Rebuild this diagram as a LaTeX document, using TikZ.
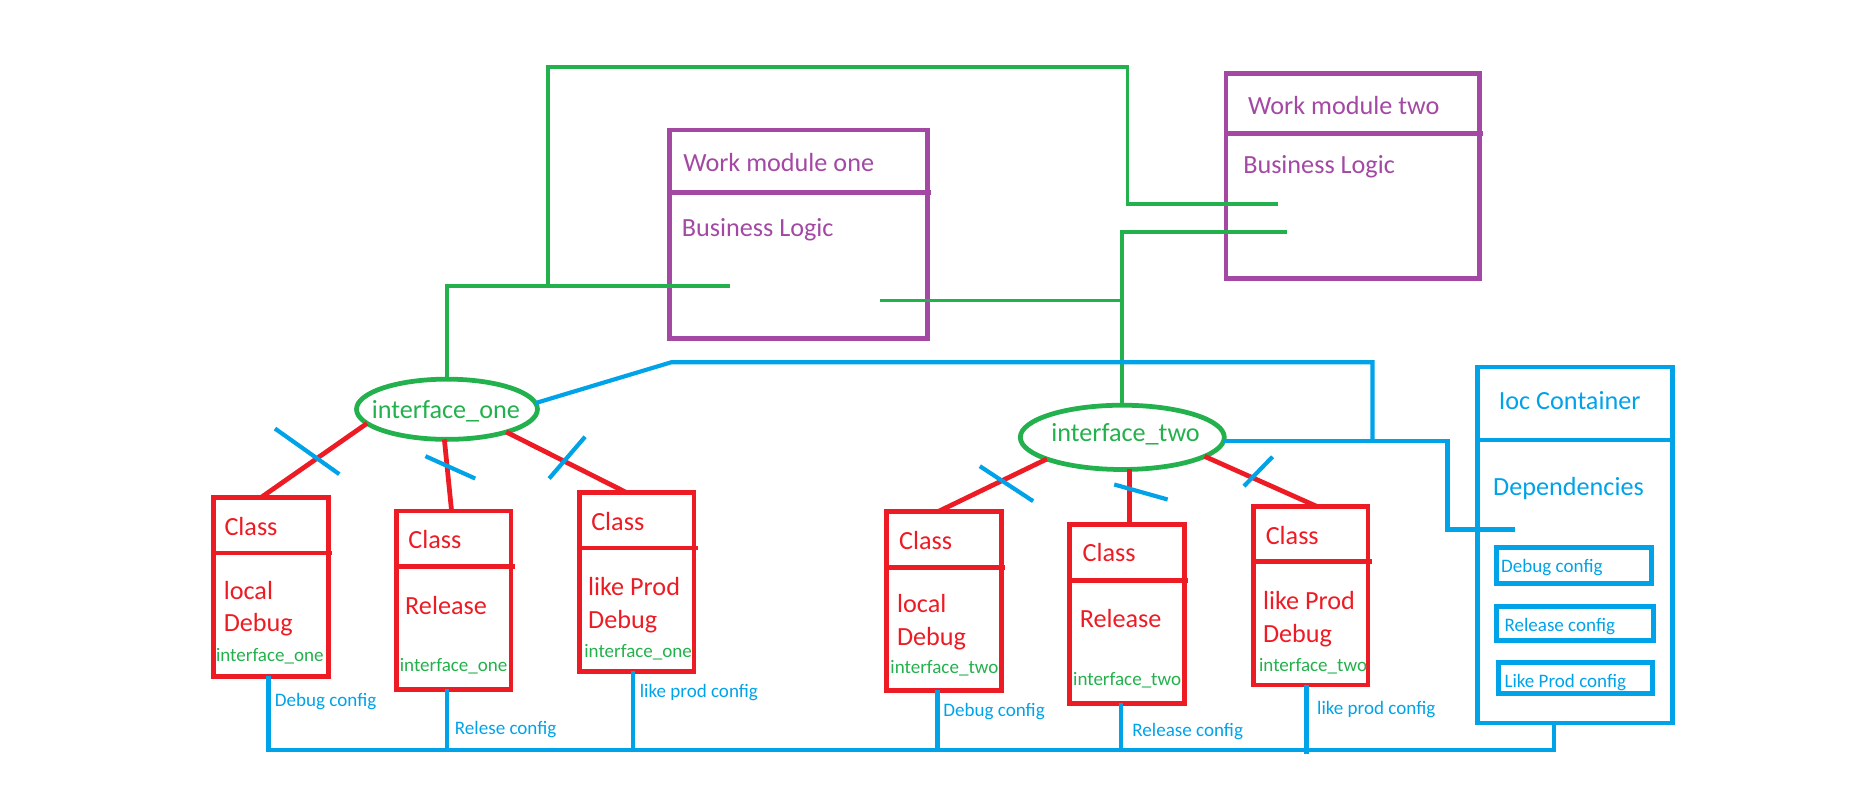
\documentclass[tikz,border=0pt]{standalone}
\usepackage{fontspec}
\setmainfont{Carlito}
\usetikzlibrary{shapes.geometric,calc}
\definecolor{pgreen}{RGB}{34,177,76}
\definecolor{ppurple}{RGB}{163,73,164}
\definecolor{pred}{RGB}{237,28,36}
\definecolor{pblue}{RGB}{0,162,232}
\begin{document}
\begin{tikzpicture}[x=1pt,y=-1pt,
  big/.style={font=\fontsize{22}{26}\selectfont, inner sep=0, outer sep=0, anchor=base west},
  small/.style={font=\fontsize{16}{19}\selectfont, inner sep=0, outer sep=0, anchor=base west},
  rbox/.style={draw=pred, line width=4pt, inner sep=0, outer sep=0, anchor=north west, minimum width=96.5pt, minimum height=150pt},
  pbox/.style={draw=ppurple, line width=4pt, inner sep=0, outer sep=0, anchor=north west},
  bbox/.style={draw=pblue, inner sep=0, outer sep=0, anchor=north west},
  ell/.style={ellipse, draw=pgreen, line width=4pt, inner sep=0, outer sep=0},
  gline/.style={draw=pgreen, line width=3.2pt},
  bline/.style={draw=pblue, line width=3.5pt},
  rline/.style={draw=pred, line width=4pt},
  rdiv/.style={draw=pred, line width=4pt},
  pdiv/.style={draw=ppurple, line width=4pt}
]
\useasboundingbox (0,0) rectangle (1560,662);

% ---------- purple work modules ----------
\node[pbox, minimum width=217pt, minimum height=175pt] (wm1) at (562.4,109.3) {};
\draw[pdiv] ($(wm1.north west)+(0,52.3)$) -- ($(wm1.north east)+(3,52.3)$);
\node[big, text=ppurple] (wm1t) at (574,144.2) {Work module one};
\node[big, text=ppurple] (wm1b) at (572.8,198.3) {Business Logic};

\node[pbox, minimum width=213pt, minimum height=172pt] (wm2) at (1029.9,61.7) {};
\draw[pdiv] ($(wm2.north west)+(0,50.3)$) -- ($(wm2.north east)+(3,50.3)$);
\node[big, text=ppurple] (wm2t) at (1048.5,95.8) {Work module two};
\node[big, text=ppurple] (wm2b) at (1044.4,145.6) {Business Logic};

% ---------- interfaces ----------
\node[ell, minimum width=152pt, minimum height=50.6pt] (e1) at (375.5,343.8) {};
\node[big, text=pgreen] (e1t) at (312.4,351.5) {interface\_one};
\node[ell, minimum width=171.4pt, minimum height=54pt] (e2) at (942.8,367.4) {};
\node[big, text=pgreen] (e2t) at (883.2,370.6) {interface\_two};

% ---------- class boxes ----------
\node[rbox] (b1) at (179.3,418) {};
\node[rbox] (b2) at (332.8,429.2) {};
\node[rbox] (b3) at (486.5,413.8) {};
\node[rbox] (b4) at (744.6,430) {};
\node[rbox] (b5) at (898.5,440.9) {};
\node[rbox] (b6) at (1052.7,425.5) {};
\foreach \b in {b1,b2,b3,b4,b5,b6}{
  \draw[rdiv] ($(\b.north west)+(0,46.5)$) -- ($(\b.north east)+(3,46.5)$);
}
\node[big, text=pred] (c1) at (188.6,449.6) {Class};
\node[big, text=pred] (l1a) at (188,503.3) {local};
\node[big, text=pred] (l1b) at (188,530.8) {Debug};
\node[small, text=pgreen] (i1) at (181.5,556) {interface\_one};

\node[big, text=pred] (c2) at (343,460.8) {Class};
\node[big, text=pred] (l2a) at (340.4,516) {Release};
\node[small, text=pgreen] (i2) at (335.9,564.4) {interface\_one};

\node[big, text=pred] (c3) at (496.7,446) {Class};
\node[big, text=pred] (l3a) at (494.1,500) {like Prod};
\node[big, text=pred] (l3b) at (494.1,528) {Debug};
\node[small, text=pgreen] (i3) at (490.9,552.6) {interface\_one};

\node[big, text=pred] (c4) at (755.3,461.6) {Class};
\node[big, text=pred] (l4a) at (753.6,514.8) {local};
\node[big, text=pred] (l4b) at (753.6,542.6) {Debug};
\node[small, text=pgreen] (i4) at (748,565.8) {interface\_two};

\node[big, text=pred] (c5) at (909.5,472) {Class};
\node[big, text=pred] (l5a) at (907.1,527.2) {Release};
\node[small, text=pgreen] (i5) at (901.5,575.6) {interface\_two};

\node[big, text=pred] (c6) at (1063.3,457.1) {Class};
\node[big, text=pred] (l6a) at (1061,512) {like Prod};
\node[big, text=pred] (l6b) at (1061,540) {Debug};
\node[small, text=pgreen] (i6) at (1057.7,564.4) {interface\_two};

% ---------- Ioc container ----------
\node[bbox, line width=3.5pt, minimum width=163.8pt, minimum height=299pt] (ioc) at (1241.2,308.4) {};
\draw[bline] ($(ioc.north west)+(0,61.3)$) -- ($(ioc.north east)+(2,61.3)$);
\node[big, text=pblue] (ioct) at (1259.1,344) {Ioc Container};
\node[big, text=pblue] (iocd) at (1254.4,416.5) {Dependencies};
\node[bbox, line width=4.2pt, minimum width=130.3pt, minimum height=29.9pt] (ib1) at (1257,460.1) {};
\node[bbox, line width=4.2pt, minimum width=131.7pt, minimum height=27.8pt] (ib2) at (1257,509.9) {};
\node[bbox, line width=4.2pt, minimum width=129.4pt, minimum height=25.8pt] (ib3) at (1258.4,556.7) {};
\node[small, text=pblue] (ib1t) at (1261.1,481.2) {Debug config};
\node[small, text=pblue] (ib2t) at (1263.9,530.8) {Release config};
\node[small, text=pblue] (ib3t) at (1263.9,577.8) {Like Prod config};

% ---------- green wiring ----------
\coordinate (g1) at (460.2,56.6);
\coordinate (g2) at (947.1,56.6);
\coordinate (g3) at (460.2,240.3);
\coordinate (g4) at (374.7,240.3);
\coordinate (g5) at (613.5,240.3);
\coordinate (g6) at (947.1,171.7);
\coordinate (g7) at (1073.3,171.7);
\coordinate (g8) at (942.4,195.2);
\coordinate (g9) at (1080.9,195.2);
\coordinate (g10) at (739,252.4);
\draw[gline] (e1.north) -- (e1.north |- g4) -- (g5);
\draw[gline] (g3) -- (g1) -- (g2) -- (g6) -- (g7);
\draw[gline] (e2.north) -- (e2.north |- g8) -- (g9);
\draw[gline] (g10) -- (e2.north |- g10);

% ---------- red connectors ----------
\draw[rline] (e1.190) -- ([xshift=-8.4pt]b1.north);
\draw[rline] (e1.265) -- ([xshift=-1.7pt]b2.north);
\draw[rline] (e1.339.5) -- ([xshift=-8.4pt]b3.north);
\draw[rline] (e2.196.6) -- ([xshift=-5.3pt]b4.north);
\coordinate (r5) at ([xshift=2pt]b5.north);
\draw[rline] (r5) -- (r5 |- e2.south);
\draw[rline] (e2.347.5) -- ([xshift=5.5pt]b6.north);

% ---------- blue crossing marks ----------
\draw[bline] (231,360) -- (285,398.3);
\draw[bline] (357.4,383.2) -- (399.2,402);
\draw[bline] (491.5,366.9) -- (461.3,402);
\draw[bline] (823.1,391.6) -- (867.9,421);
\draw[bline] (936,407) -- (980.9,419.6);
\draw[bline] (1069,383.7) -- (1045,408.4);

% ---------- blue wiring ----------
\coordinate (bA) at (564,304.3);
\coordinate (bB) at (1153,304.3);
\coordinate (bC) at (1153,370.3);
\coordinate (bD) at (1216,370.3);
\coordinate (bE) at (1273,444.8);
\draw[bline] (e1.4) -- (bA) -- (bB) -- (bC);
\draw[bline] (e2.east |- bD) -- (bD) |- (bE);

\coordinate (busL) at (0,630);
\coordinate (v1) at ([xshift=-2pt]b1.south);
\coordinate (v2) at ([xshift=-5.25pt]b2.south);
\coordinate (v3) at ([xshift=-2.65pt]b3.south);
\coordinate (v4) at ([xshift=-5.35pt]b4.south);
\coordinate (v5) at ([xshift=-4.75pt]b5.south);
\coordinate (v6) at ([xshift=-3.45pt]b6.south);
\coordinate (iocb) at ([xshift=-17.8pt]ioc.south);
\draw[bline] (v1) -- (v1 |- busL) -- (iocb |- busL) -- (iocb);
\foreach \v in {v2,v3,v4,v5}{
  \draw[bline] (\v) -- (\v |- busL);
}
\draw[bline] (v6) -- ($(v6 |- busL)+(0,3)$);

\node[small, text=pblue] (s1) at (231,593.3) {Debug config};
\node[small, text=pblue] (s2) at (382.2,616.8) {Relese config};
\node[small, text=pblue] (s3) at (537.5,586.3) {like prod config};
\node[small, text=pblue] (s4) at (792.5,601.7) {Debug config};
\node[small, text=pblue] (s5) at (951.3,618.5) {Release config};
\node[small, text=pblue] (s6) at (1106.5,600) {like prod config};
\end{tikzpicture}
\end{document}
